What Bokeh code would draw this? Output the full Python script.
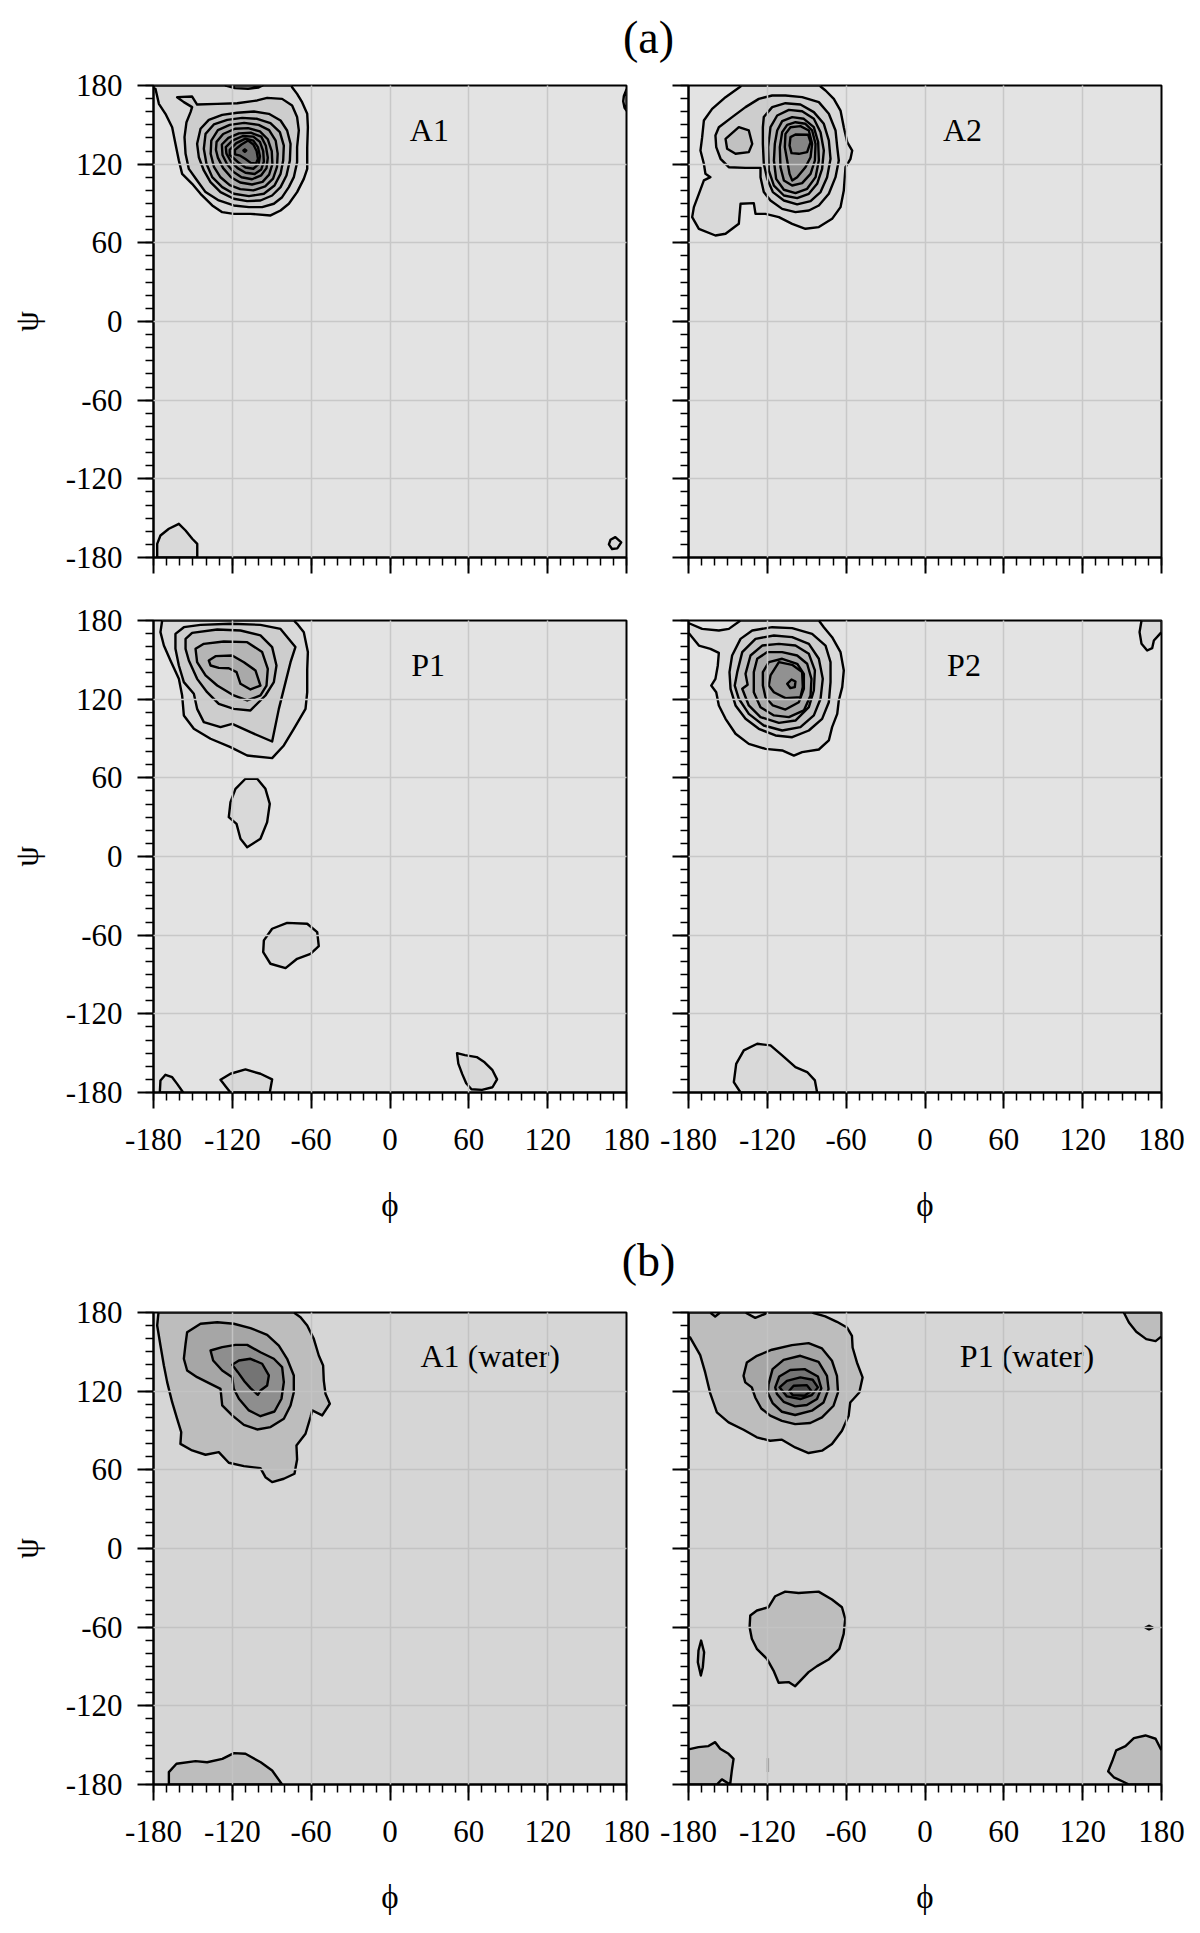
from bokeh.plotting import figure
from bokeh.models import Range1d, FixedTicker, Label
from bokeh.layouts import column, row
from bokeh.embed import file_html
from bokeh.resources import INLINE

FONT = "Liberation Serif"
MAJOR_TICKS = [-180, -120, -60, 0, 60, 120, 180]
TICK_LABELS = ["-180", "-120", "-60", "0", "60", "120", "180"]
GRID_TICKS = [-120, -60, 0, 60, 120]
MINOR_TICKS = [-180, -170, -160, -150, -140, -130, -120, -110, -100, -90, -80, -70, -60, -50, -40, -30,
               -20, -10, 0, 10, 20, 30, 40, 50, 60, 70, 80, 90, 100, 110, 120, 130, 140, 150, 160, 170, 180]
X_LABEL = "ϕ"
Y_LABEL = "ψ"

# fill shades for the contour levels (a: vacuum panels, b: water panels)
LEVELS_A = ["#d9d9d9", "#cdcdcd", "#c1c1c1", "#b5b5b5", "#a9a9a9", "#9d9d9d",
            "#919191", "#858585", "#797979", "#6d6d6d", "#616161"]
LEVELS_B = ["#bdbdbd", "#a6a6a6", "#8e8e8e", "#747474", "#5e5e5e", "#4a4a4a"]

# ---------------- A1 contours (phi, psi) ----------------
A1_C1 = [(-180, 180), (-180, 178), (-178.5, 177.5), (-175.9, 166), (-170.9, 158.4), (-165.8, 148.2),
         (-163.3, 135.5), (-160.7, 122.8), (-158.2, 112.6), (-150.6, 105), (-144.2, 97.4), (-135.3, 88.5),
         (-127.7, 83.4), (-118.9, 82.1), (-106.2, 82.1), (-90.9, 80.9), (-83.3, 84.7), (-77, 89.8),
         (-70.7, 98.7), (-65.6, 108.8), (-63, 116.4), (-63, 133), (-62.5, 148.2), (-63, 158.4),
         (-66.9, 167.3), (-70.7, 173.6), (-74.5, 178.7), (-75, 180)]
A1_C2 = [(-162, 171.1), (-150.6, 171.6), (-146.8, 165.5), (-131.5, 166), (-116.3, 166.5), (-101.1, 168.6),
         (-93.5, 170.6), (-82.1, 169.8), (-74.5, 164.7), (-70.7, 155.9), (-69.4, 145.7), (-70.7, 133),
         (-70.7, 121.5), (-73.2, 110.1), (-77, 102.5), (-82.1, 94.8), (-88.4, 89.8), (-97.3, 87.2),
         (-107.4, 87.2), (-118.9, 88.5), (-130.3, 92.3), (-140.4, 98.7), (-146.8, 107.6), (-153.1, 116.4),
         (-155.6, 127.9), (-156.4, 140.6), (-154.9, 152), (-151.8, 159.7), (-150.6, 163.5), (-156.9, 167.3)]
A1_C3 = [(-144.2, 147), (-137.9, 153.8), (-127.7, 157.6), (-116.3, 159.2), (-103.6, 160.2), (-92.2, 158.4),
         (-83.3, 153.3), (-78.3, 145.7), (-75.7, 135.5), (-76.2, 122.8), (-78.8, 111.4), (-83.3, 102.5),
         (-89.7, 96.1), (-98.6, 92.3), (-108.7, 91.8), (-118.9, 93.6), (-129, 98.7), (-136.6, 106.3),
         (-141.7, 115.2), (-145.5, 125.3), (-146.8, 135.5)]
A1_C4 = [(-140.4, 143.1), (-134.1, 150.3), (-123.9, 153.8), (-112.5, 155.3), (-101.1, 154.6), (-91, 151.3),
         (-83.8, 144.4), (-80.8, 134.2), (-81.3, 122.8), (-83.3, 112.6), (-87.9, 103.7), (-96, 97.4),
         (-107.4, 95.6), (-118.9, 97.4), (-127.7, 102.5), (-135.3, 110.1), (-139.7, 120.3), (-141.7, 131.7)]
A1_C5 = [(-136, 138), (-131, 146), (-122, 150), (-111, 151.5), (-100, 150), (-92, 146), (-87, 138),
         (-85.5, 128), (-86, 118), (-89, 109), (-95, 103), (-104, 100), (-114, 101), (-122, 104),
         (-129, 110), (-134, 118), (-136.5, 128)]
A1_C6 = [(-132, 137), (-127, 143), (-118, 147), (-108, 147.5), (-99, 145), (-93, 139), (-90, 130),
         (-89.5, 120), (-92, 112), (-97, 106.5), (-105, 104.5), (-114, 106), (-121, 110), (-127, 117),
         (-131, 125), (-132.5, 131)]
A1_C7 = [(-128, 135), (-123, 140), (-115, 143.5), (-106, 144), (-98, 141), (-94.5, 134), (-93, 125),
         (-94, 117), (-98, 111.5), (-105, 108.5), (-113, 110), (-119, 114), (-124, 120), (-127.5, 127)]
A1_C8 = [(-125, 133), (-120, 138), (-112, 141.5), (-104, 141), (-99, 137), (-96.5, 130), (-96, 122),
         (-98, 116), (-103, 112.5), (-110, 113.5), (-116, 117), (-121, 122), (-124.5, 128)]
A1_C9 = [(-122, 131), (-117, 136), (-110, 139.5), (-104, 138), (-100.5, 133), (-99, 126), (-100, 120),
         (-104, 116.5), (-110, 117.5), (-115, 121), (-119, 124.5), (-122, 127)]
A1_C10 = [(-118, 131), (-113, 135), (-108, 138), (-104, 135), (-101.5, 130), (-100.5, 124), (-102, 120.5),
          (-106, 121), (-110, 124), (-114, 126.5), (-118, 127.5)]
A1_C11 = [(-111.6, 130.4), (-110.5, 131.3), (-109.4, 130.4), (-110.5, 129.5)]
A1_TOP = [(-125, 180), (-118, 178), (-108, 177.5), (-100, 178.5), (-97, 180)]
A1_RIGHT = [(180, 177), (178, 172), (177.5, 168), (178.5, 163), (180, 161)]
A1_BL = [(-177.2, -180), (-177.2, -169.6), (-174.7, -163.2), (-168.3, -158.1), (-160.7, -154.3),
         (-155.6, -159.4), (-150.5, -165.7), (-146.7, -169.6), (-146.7, -180)]
A1_BR = [(167.8, -166.5), (171.5, -164.5), (176, -168.5), (173, -173), (169, -173.5), (166.6, -170)]

# ---------------- A2 contours ----------------
A2_C1 = [(-141, 180), (-140.4, 179.2), (-151.8, 171.1), (-162, 162.2), (-168.3, 153.3), (-169.6, 140.6),
         (-170.9, 130.4), (-168.3, 120.3), (-167.1, 112.6), (-163.3, 110.1), (-168.3, 107.6), (-172.1, 97.4),
         (-175.9, 87.2), (-177.2, 79.6), (-172.1, 70.7), (-159.5, 65.6), (-151.8, 66.9), (-141.7, 74.5),
         (-140.4, 89.8), (-130.3, 90.3), (-129, 82.1), (-121.4, 82.1), (-111.2, 79.6), (-101.1, 74.5),
         (-91, 70.7), (-80.8, 72), (-70.7, 78.3), (-64.3, 87.2), (-61.8, 99.9), (-60.5, 117.7),
         (-56.7, 124.1), (-55.4, 130.4), (-59.2, 136.8), (-61.8, 148.2), (-64.3, 160.9), (-69.4, 169.8),
         (-75.7, 176.2), (-79.5, 179.2), (-79, 180)]
A2_C2 = [(-159.5, 141.9), (-156.9, 148.2), (-146.8, 155.9), (-136.6, 163.5), (-126.5, 169.8), (-116.3, 172.4),
         (-106.2, 172.4), (-93.5, 171.1), (-80.8, 167.3), (-73.2, 158.4), (-68.1, 145.7), (-66.8, 133),
         (-65.6, 122.8), (-68.1, 110.1), (-73.2, 97.4), (-80.8, 88.5), (-88.4, 84.7), (-98.6, 83.4),
         (-108.7, 85.9), (-117.6, 92.3), (-122.7, 98.7), (-125.2, 110.1), (-125.2, 117.2), (-136.6, 117.2),
         (-149.3, 117.7), (-155.6, 124.1), (-158.9, 133)]
A2_LOBE = [(-151.8, 139.3), (-141.7, 148.2), (-134.1, 145.7), (-131.5, 135.5), (-134.1, 129.2),
           (-144.2, 127.9), (-150.6, 131.7)]
A2_C3 = [(-122.7, 155.9), (-116.3, 163.5), (-106.2, 166.5), (-94.8, 165.5), (-84.6, 159.7), (-77, 150.8),
         (-73.2, 138.1), (-71.9, 124.1), (-74.5, 110.1), (-79.5, 98.7), (-87.1, 91.8), (-97.3, 89.3),
         (-107.4, 92.3), (-115.8, 98.7), (-120.1, 108.8), (-122.7, 120.3), (-123.4, 135.5), (-123.4, 148.2)]
A2_C4 = [(-117.6, 148.2), (-112.5, 157.1), (-103.6, 161.4), (-93.5, 160.4), (-84.6, 154.6), (-79.5, 144.4),
         (-77, 130.4), (-78.3, 116.4), (-82.1, 105), (-88.4, 97.4), (-97.3, 94.1), (-107.4, 96.1),
         (-115, 103.7), (-118.9, 115.2), (-119.4, 133)]
A2_C5 = [(-112.5, 145.7), (-108.7, 152.8), (-101.1, 155.9), (-92.2, 154.6), (-84.6, 148.2), (-81.3, 136.8),
         (-80.8, 122.8), (-83.3, 110.1), (-89.7, 101.2), (-98.6, 97.9), (-107.4, 100.5), (-113.3, 108.8),
         (-115, 122.8), (-114.3, 135.5)]
A2_C6 = [(-108.7, 144.4), (-104.9, 150), (-98.6, 152), (-91, 150.8), (-85.9, 145.7), (-83.3, 135.5),
         (-83.8, 122.8), (-87.1, 112.6), (-93.5, 105.5), (-101.1, 103.7), (-107.4, 107.6), (-110, 117.7),
         (-110.5, 133)]
A2_C7 = [(-106.2, 143.1), (-102.4, 148.2), (-94.8, 149), (-88.4, 145.7), (-85.9, 135.5), (-87.1, 125.3),
         (-91, 117.7), (-97.3, 110.1), (-101.1, 107.6), (-103.1, 112.6), (-104.9, 122.8), (-106.7, 133)]
A2_C8 = [(-102.4, 140.6), (-98.6, 142.6), (-88.9, 142.4), (-87.1, 136.8), (-89.7, 129.2), (-96, 127.9),
         (-101.6, 128.4), (-103.1, 134.2)]

# ---------------- P1 contours ----------------
P1_C1 = [(-173.4, 180), (-174.7, 171.1), (-172.1, 160.9), (-167.1, 149.5), (-160.7, 135.5), (-158.2, 122.8),
         (-156.9, 107.6), (-149.3, 97.4), (-136.6, 89.8), (-121.4, 83.4), (-108.7, 77), (-89.7, 75),
         (-80.8, 84.7), (-73.2, 97.4), (-64.3, 112.6), (-63, 125.3), (-63, 143.1), (-62.5, 155.9),
         (-65.6, 171.1), (-70.7, 177.5), (-73.2, 180)]
P1_C2 = [(-163.3, 169.8), (-156.9, 174.9), (-144.2, 176.7), (-121.4, 177.5), (-98.6, 176.7), (-83.3, 173.6),
         (-72, 159.7), (-75.7, 148.2), (-79.5, 133), (-84.6, 112.6), (-89.7, 87.7), (-106.2, 94.8),
         (-120.1, 101.2), (-129, 98.7), (-141.7, 102.5), (-146.8, 112.6), (-149.3, 124.1), (-156.9, 133),
         (-160.7, 145.7), (-163.3, 158.4)]
P1_C3 = [(-155.6, 166), (-150.6, 170.6), (-131.5, 173.1), (-113.8, 172.4), (-98.6, 168.6), (-89.7, 159.7),
         (-86.4, 145.7), (-88.4, 133), (-94.8, 122.8), (-106.2, 111.4), (-118.9, 112.6), (-130.3, 116.4),
         (-139.2, 125.3), (-146.8, 135.5), (-153.1, 149.5), (-155.6, 158.4)]
P1_C4 = [(-148, 158.4), (-141.7, 162.2), (-126.5, 164), (-108.7, 163.5), (-97.3, 155.9), (-93, 143.1),
         (-94, 130.4), (-98.6, 122.8), (-108.7, 119), (-118.9, 122.8), (-131.5, 130.4), (-140.4, 138.1),
         (-146.8, 148.2)]
P1_C5 = [(-137.9, 149.5), (-132.8, 152.8), (-120.1, 153.3), (-111.2, 148.2), (-102.4, 141.9), (-98.6, 130.4),
         (-106.2, 127.4), (-113.8, 131.7), (-116.8, 140.6), (-122.7, 143.6), (-130.3, 143.9), (-136.6, 145.7)]
P1_B1 = [(-110, 59.3), (-101.1, 59.3), (-94.8, 51.6), (-91.5, 40.2), (-93.5, 26.2), (-98.6, 13.5),
         (-108.7, 7.1), (-113.8, 13.5), (-116.8, 24.9), (-122.7, 30), (-121.4, 41.5), (-117.6, 51.6)]
P1_B2 = [(-96, -64), (-89.7, -55.1), (-78.3, -50.6), (-63, -51.3), (-55.4, -57.7), (-54.2, -68.4),
         (-60.5, -74.2), (-70.7, -78), (-79.5, -85.1), (-91, -81.8), (-96.5, -72.9)]
P1_B3 = [(-175.2, -180), (-174.7, -170.8), (-170.9, -166.5), (-165.8, -168.3), (-162, -173.4), (-157.4, -180)]
P1_B4 = [(-129, -170.3), (-121.4, -165.7), (-110, -162.4), (-98.6, -165.7), (-89.7, -170), (-91.5, -180),
         (-121.4, -180), (-125.2, -175.2)]
P1_B5 = [(51, -150), (57, -151.5), (66, -153), (72, -157), (78, -163), (81.5, -170), (78, -176), (70, -178),
         (62, -177.5), (58, -173), (55, -166), (52, -158)]

# ---------------- P2 contours ----------------
P2_C1 = [(-80.8, 180), (-140.4, 180), (-149.3, 173.6), (-156.9, 172.4), (-169.6, 173.6), (-179.2, 177.7),
         (-180, 177.7), (-180, 170.6), (-172.1, 160.9), (-163.3, 158.4), (-156.9, 155.3), (-157.7, 145.7),
         (-159.5, 135.5), (-162.7, 130.4), (-158.9, 125.3), (-156.9, 115.2), (-151.8, 105), (-144.2, 93.6),
         (-134.1, 85.9), (-121.4, 82.1), (-108.7, 80.9), (-99.8, 77), (-93.5, 79.6), (-80.8, 81.6),
         (-73.2, 88.5), (-70.7, 98.7), (-66.8, 108.8), (-65.6, 119), (-63, 129.2), (-61.8, 141.9),
         (-64.3, 155.9), (-70.7, 167.3), (-77, 174.9)]
P2_C2 = [(-146.8, 153.3), (-140.4, 166), (-131.5, 172.4), (-116.3, 174.9), (-101.1, 174.2), (-85.9, 169.8),
         (-75.7, 160.9), (-71.9, 148.2), (-71.9, 133), (-73.2, 117.7), (-78.3, 105), (-88.4, 96.1),
         (-101.1, 91), (-113.8, 92.3), (-126.5, 97.4), (-136.6, 105), (-144.2, 115.2), (-148, 127.9),
         (-148.8, 140.6)]
P2_C3 = [(-142.9, 140.6), (-139.1, 155.9), (-129, 166), (-115, 168.6), (-101.1, 167.3), (-88.4, 162.2),
         (-80.8, 150.8), (-77.8, 135.5), (-79.5, 120.3), (-84.6, 107.6), (-94.8, 98.7), (-108.7, 96.1),
         (-122.7, 99.9), (-134.1, 108.8), (-141.7, 120.3), (-144.8, 130.4)]
P2_C4 = [(-136.6, 139.3), (-132.8, 153.3), (-123.9, 160.9), (-111.2, 162.2), (-98.6, 160.9), (-88.4, 154.6),
         (-83.8, 141.9), (-84.6, 126.6), (-88.4, 113.9), (-98.6, 103.7), (-111.2, 101.9), (-125.2, 106.3),
         (-134.1, 115.2), (-139.1, 127.9), (-135, 131)]
P2_C5 = [(-130.3, 140.6), (-127.7, 150.8), (-120.1, 155.9), (-108.7, 155.9), (-97.3, 153.3), (-89.7, 147),
         (-86.4, 135.5), (-87.1, 122.8), (-92.2, 111.4), (-103.6, 106.3), (-115, 107.6), (-125.2, 113.9),
         (-130.3, 125.3)]
P2_C6 = [(-123.4, 140.6), (-118.9, 148.2), (-108.7, 150.8), (-97.3, 147), (-92.2, 139.3), (-92.2, 127.9),
         (-96, 117.7), (-106.2, 112.1), (-115.8, 115.2), (-121.4, 121.5), (-123.4, 130.4)]
P2_C7 = [(-117.6, 138.1), (-111.2, 148.2), (-101.1, 146.2), (-93.5, 140.6), (-93, 129.2), (-94.8, 121.5),
         (-106.2, 120.8), (-115, 125.3), (-118.9, 130.4)]
P2_C8 = [(-104.9, 131.7), (-101.6, 135), (-98.6, 133.5), (-99.1, 129.2), (-102.4, 128.4)]
P2_TR = [(164.8, 180), (163.3, 171.1), (164.8, 162.2), (169.1, 157.1), (172.9, 158.9), (174.2, 164.7),
         (180, 171.1), (180, 180)]
P2_BOT = [(-145.5, -172.1), (-143.7, -158.1), (-137.9, -147.9), (-127.7, -142.8), (-117.6, -144.1),
          (-108.7, -151.7), (-98.6, -160.6), (-89.7, -164.4), (-83.8, -170.8), (-82.1, -180), (-140.4, -180)]

# ---------------- A1 (water) contours ----------------
A1W_C1 = [(-176.2, 180), (-177.2, 170.1), (-174.7, 154.8), (-172.1, 139.6), (-169.6, 126.9), (-165.8, 111.6),
          (-162, 98.9), (-158.9, 88.7), (-159.5, 79.8), (-150.6, 74.8), (-140.4, 71.5), (-130.3, 73.5),
          (-122.7, 65.4), (-111.2, 62.8), (-98.6, 61.3), (-94.8, 54.4), (-89.7, 50.6), (-80.8, 53.2),
          (-72.7, 57), (-70.7, 67.9), (-71.2, 78.6), (-64.3, 87.5), (-60.5, 100.2), (-59.2, 105.3),
          (-51.6, 101.5), (-45.8, 110.4), (-49.1, 118), (-50.4, 128.1), (-50.9, 139.6), (-54.2, 147.2),
          (-58, 159.9), (-63, 170.1), (-68.1, 176.4), (-73.2, 180)]
A1W_C2 = [(-154.4, 165), (-144.2, 171.4), (-131.5, 172.6), (-118.9, 171.4), (-106.2, 168.1), (-93.5, 163),
          (-84.6, 154.8), (-78.3, 144.7), (-73.2, 132), (-73.2, 119.2), (-75.7, 109.1), (-80.8, 98.9),
          (-90.9, 92.6), (-101.1, 90.8), (-111.2, 94.3), (-120.1, 101.5), (-127.7, 109.1), (-129, 121.8),
          (-136.6, 125.6), (-146.8, 130.7), (-154.4, 135.8), (-156.9, 144.7), (-155.6, 156.1)]
A1W_C3 = [(-136.6, 151), (-127.7, 153.6), (-117.6, 155.3), (-108.7, 155.3), (-98.6, 149.7), (-88.4, 144.7),
          (-82.1, 138.3), (-80.8, 126.9), (-82.6, 114.2), (-87.9, 104.5), (-98.6, 100.9), (-107.4, 105.3),
          (-115, 114.2), (-118.9, 121.8), (-120.1, 130.7), (-127.7, 135.8), (-134.6, 143.4)]
A1W_C4 = [(-120.1, 140.1), (-115, 143.4), (-106.2, 144.7), (-97.3, 140.9), (-92.2, 132), (-93.5, 124.3),
          (-98.6, 120.5), (-100.6, 117.2), (-106.2, 122.3), (-110.7, 127.4), (-115.8, 134.5)]
A1W_BOT = [(-168.3, -180), (-168.3, -170.6), (-162.5, -164.2), (-148, -162.2), (-139.2, -163), (-127.6, -160.4),
           (-118.8, -156.1), (-110, -156.6), (-98.4, -163), (-89.7, -169.3), (-82.1, -180)]

# ---------------- P1 (water) contours ----------------
P1W_C1 = [(-180, 180), (-163.5, 180), (-159.7, 177), (-155.9, 180), (-136.8, 180), (-129.2, 175.9),
          (-121.6, 179), (-120.3, 180), (-86, 180), (-75.9, 177), (-67, 172.9), (-59.4, 168.6), (-55.6, 162.2),
          (-55.1, 153.3), (-51.8, 141.9), (-47.5, 130.5), (-50, 119), (-56.9, 111.4), (-58.1, 101.3),
          (-63.2, 89.8), (-70.8, 79.7), (-78.4, 74.6), (-88.6, 72.8), (-98.8, 77.1), (-108.9, 83),
          (-117.8, 82.2), (-128, 84.8), (-138.1, 90.6), (-149.5, 96.2), (-158.4, 103.8), (-163.5, 118.5),
          (-167.3, 134.3), (-171.1, 147.5), (-178.7, 160.9), (-180, 161.7)]
P1W_C2 = [(-138.1, 131.7), (-135.6, 141.9), (-127.9, 147), (-116.5, 151.6), (-101.3, 155.1), (-88.6, 156.6),
          (-78.4, 152.6), (-70.8, 143.2), (-67, 131.7), (-66.2, 119), (-69.6, 108.9), (-78.4, 100),
          (-87.3, 95.7), (-98.8, 94.9), (-108.9, 97.4), (-117.8, 101.3), (-124.6, 106.8), (-129.2, 115.2),
          (-131.8, 122.9), (-136.8, 126.7)]
P1W_C3 = [(-119.1, 125.4), (-116, 136.8), (-107.6, 143.9), (-94.9, 147), (-81, 142.4), (-74.6, 131.7),
          (-73.4, 121.6), (-77.2, 111.4), (-86.1, 105.1), (-98.8, 101.8), (-108.9, 104.3), (-116, 110.9),
          (-119.6, 118.5)]
P1W_C4 = [(-114, 122.9), (-110.9, 131.2), (-102.6, 136.1), (-91.6, 136.8), (-81.5, 131.2), (-78.9, 122.1),
          (-82.2, 114), (-89.9, 109.4), (-98.8, 108.4), (-107.6, 111.9), (-112.7, 117.8)]
P1W_C5 = [(-110.7, 122.9), (-105.1, 127.9), (-94.9, 130.5), (-85.5, 128.7), (-81.5, 122.9), (-86.1, 117),
          (-94.9, 114), (-105.1, 116)]
P1W_C6 = [(-103.3, 120.3), (-100, 124.1), (-89.9, 124.6), (-86.6, 120.3), (-91.6, 116.5), (-100.8, 117)]
P1W_MID = [(-133.5, -60), (-133, -51.1), (-127.9, -47.3), (-119.1, -44.8), (-114, -36.4), (-106.4, -32.9),
           (-96.2, -33.9), (-81, -32.9), (-70.8, -38.9), (-63.2, -44.8), (-60.7, -53.7), (-61.9, -65.1),
           (-65.2, -76.5), (-73.4, -84.7), (-82.2, -89.7), (-88.6, -94.3), (-98.8, -105), (-103.8, -101.9),
           (-111.4, -102.4), (-115.3, -93.1), (-120.3, -84.2), (-128, -76.5), (-131.8, -68.9)]
P1W_LEFT = [(-170.4, -70.2), (-168.1, -79.1), (-169.1, -90.5), (-170.6, -96.9), (-172.9, -86.7), (-172.4, -77.8)]
P1W_DOT = [(167.8, -60.3), (170.5, -58.9), (173.3, -60.3), (170.5, -61.7)]
P1W_BL = [(-180, -153.2), (-172.4, -151.5), (-164.8, -150.7), (-159.7, -147.7), (-155.9, -152.7),
          (-149.5, -156.6), (-145.7, -160.4), (-147, -169.3), (-148.3, -180), (-154.6, -176.1), (-158.4, -180),
          (-180, -180)]
P1W_BR = [(139.4, -170), (143, -160.9), (145.5, -154), (152.6, -150.7), (159, -144.6), (167.8, -142.6),
          (175.5, -145.1), (180, -154), (180, -180), (155.2, -180), (150.1, -177.5), (143.7, -174.5)]
P1W_TR = [(151.3, 180), (155.2, 172.4), (160.8, 165.3), (168.4, 159.7), (175.5, 158.2), (180, 161.7), (180, 180)]
P1W_MARK_PHI = [-119.6, -119.6]
P1W_MARK_PSI = [-159.9, -170.5]

# level assignments (level index, contour)
A1_SHAPES = [(1, A1_C1), (1, A1_RIGHT), (1, A1_BL), (1, A1_BR), (2, A1_TOP), (2, A1_C2), (3, A1_C3),
             (4, A1_C4), (5, A1_C5), (6, A1_C6), (7, A1_C7), (8, A1_C8), (9, A1_C9), (10, A1_C10), (11, A1_C11)]
A2_SHAPES = [(1, A2_C1), (2, A2_C2), (3, A2_LOBE), (3, A2_C3), (4, A2_C4), (5, A2_C5), (6, A2_C6),
             (7, A2_C7), (8, A2_C8)]
P1_SHAPES = [(1, P1_C1), (1, P1_B1), (1, P1_B2), (1, P1_B3), (1, P1_B4), (1, P1_B5), (2, P1_C2), (3, P1_C3),
             (4, P1_C4), (5, P1_C5)]
P2_SHAPES = [(1, P2_C1), (1, P2_TR), (1, P2_BOT), (2, P2_C2), (3, P2_C3), (4, P2_C4), (5, P2_C5),
             (6, P2_C6), (7, P2_C7), (8, P2_C8)]
A1W_SHAPES = [(1, A1W_C1), (1, A1W_BOT), (2, A1W_C2), (3, A1W_C3), (4, A1W_C4)]
P1W_SHAPES = [(1, P1W_C1), (1, P1W_TR), (1, P1W_MID), (1, P1W_LEFT), (1, P1W_DOT), (1, P1W_BL), (1, P1W_BR),
              (2, P1W_C2), (3, P1W_C3), (4, P1W_C4), (5, P1W_C5), (6, P1W_C6)]

BG_A, GRID_A = "#e3e3e3", "#c8c8c8"
BG_B, GRID_B = "#d6d6d6", "#c3c3c3"


def style_axis(ax, show_labels, standoff, axis_label=None, label_standoff=0):
    ax.ticker = FixedTicker(ticks=MAJOR_TICKS, minor_ticks=MINOR_TICKS)
    ax.axis_line_width = 2
    ax.axis_line_color = "black"
    ax.major_tick_line_width = 2
    ax.minor_tick_line_width = 1.5
    ax.major_tick_in = 0
    ax.major_tick_out = 16
    ax.minor_tick_in = 0
    ax.minor_tick_out = 8
    ax.major_label_text_font = FONT
    ax.major_label_text_font_size = "31px"
    ax.major_label_text_color = "black"
    if show_labels:
        ax.major_label_standoff = standoff
        ax.major_label_overrides = {t: s for t, s in zip(MAJOR_TICKS, TICK_LABELS)}
    else:
        ax.major_label_standoff = 0
        ax.major_label_overrides = {t: "" for t in MAJOR_TICKS}
    if axis_label:
        ax.axis_label = axis_label
        ax.axis_label_text_font = FONT
        ax.axis_label_text_font_style = "normal"
        ax.axis_label_text_font_size = "33px"
        ax.axis_label_text_color = "black"
        ax.axis_label_standoff = label_standoff


def make_panel(shapes, palette, bg, grid_color, text, text_pos, left_col, show_x, top_b, bottom_b,
               extra_line=None):
    w = 657 if left_col else 535
    h = top_b + 472 + bottom_b
    p = figure(width=w, height=h, x_range=Range1d(-180, 180), y_range=Range1d(-180, 180),
               output_backend="svg", toolbar_location=None,
               min_border_left=153 if left_col else 31, min_border_right=31,
               min_border_top=top_b, min_border_bottom=bottom_b)
    p.background_fill_color = bg
    p.border_fill_color = "white"
    p.outline_line_color = "black"
    p.outline_line_width = 2
    xs = [[pt[0] for pt in s] for lvl, s in shapes]
    ys = [[pt[1] for pt in s] for lvl, s in shapes]
    fills = [palette[lvl - 1] for lvl, s in shapes]
    p.patches(xs, ys, fill_color=fills, line_color="black", line_width=2.4, line_join="round")
    if extra_line is not None:
        r = p.line(extra_line[0], extra_line[1], line_color="#9a9a9a", line_width=2.5)
        r.level = "overlay"
    style_axis(p.xaxis[0], show_x, 20, X_LABEL if show_x else None, 34)
    style_axis(p.yaxis[0], left_col, 15, Y_LABEL if left_col else None, 18)
    for g in (p.xgrid[0], p.ygrid[0]):
        g.ticker = FixedTicker(ticks=GRID_TICKS)
        g.grid_line_color = grid_color
        g.grid_line_width = 1.5
        g.level = "overlay"
    p.add_layout(Label(x=text_pos[0], y=text_pos[1], text=text, text_font=FONT, text_font_size="32px",
                       text_align="center", text_baseline="middle", text_color="black"))
    return p


def title_fig(text, height, y_from_bottom):
    t = figure(width=1192, height=height, x_range=Range1d(0, 1192), y_range=Range1d(0, height),
               output_backend="svg", toolbar_location=None, x_axis_type=None, y_axis_type=None,
               min_border=0)
    t.outline_line_color = None
    t.background_fill_color = "white"
    t.border_fill_color = "white"
    t.add_layout(Label(x=648, y=y_from_bottom, x_units="screen", y_units="screen", text=text,
                       text_font=FONT, text_font_size="46px", text_align="center",
                       text_baseline="middle", text_color="black"))
    return t


pa1 = make_panel(A1_SHAPES, LEVELS_A, BG_A, GRID_A, "A1", (30, 146), True, False, 20, 43)
pa2 = make_panel(A2_SHAPES, LEVELS_A, BG_A, GRID_A, "A2", (28.5, 146), False, False, 20, 43)
pp1 = make_panel(P1_SHAPES, LEVELS_A, BG_A, GRID_A, "P1", (29, 146), True, True, 20, 143)
pp2 = make_panel(P2_SHAPES, LEVELS_A, BG_A, GRID_A, "P2", (29.7, 146), False, True, 20, 143)
pw1 = make_panel(A1W_SHAPES, LEVELS_B, BG_B, GRID_B, "A1 (water)", (76.2, 147), True, True, 22, 140)
pw2 = make_panel(P1W_SHAPES, LEVELS_B, BG_B, GRID_B, "P1 (water)", (77.6, 147), False, True, 22, 140,
                 extra_line=(P1W_MARK_PHI, P1W_MARK_PSI))

ta = title_fig("(a)", 65, 28)
tb = title_fig("(b)", 55, 30)

layout = column(ta, row(pa1, pa2, spacing=0), row(pp1, pp2, spacing=0), tb, row(pw1, pw2, spacing=0),
                spacing=0)

open("out.html", "w").write(file_html(layout, INLINE))
